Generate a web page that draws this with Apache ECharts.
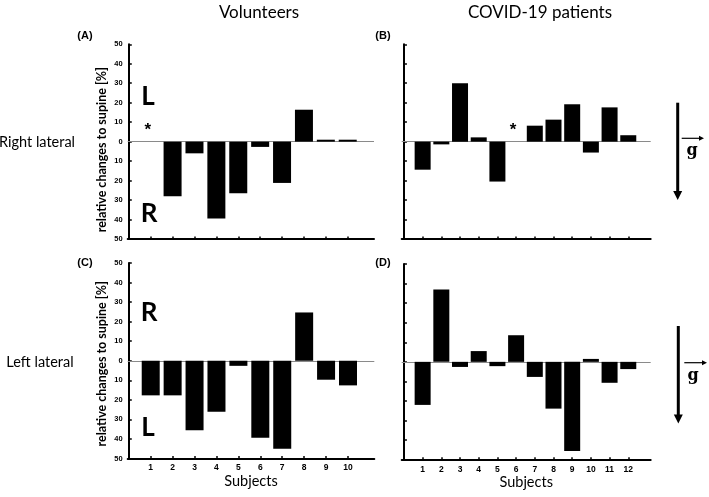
<!DOCTYPE html>
<html><head><meta charset="utf-8">
<script src="https://cdn.jsdelivr.net/npm/echarts@6/dist/echarts.min.js"></script>
<style>html,body{margin:0;padding:0;background:#fff}#c{width:709px;height:497px}</style>
</head><body><div id="c"></div>
<script>
// ---- data ----
const subjectsVol = [1, 2, 3, 4, 5, 6, 7, 8, 9, 10];
const subjectsCov = [1, 2, 3, 4, 5, 6, 7, 8, 9, 10, 11, 12];
const volRight = [null, -28, -6, -39.5, -26.5, -2.7, -21.2, 16.4, 1, 1];
const covRight = [-14.4, -1.4, 30, 2.2, -20.5, null, 8.2, 11.3, 19.2, -5.6, 17.6, 3.3];
const volLeft = [-17.7, -17.7, -35.6, -26.1, -2.6, -39.4, -45, 24.7, -9.7, -12.6];
const covLeft = [-22, 37, -2.6, 5.5, -2.2, 13.6, -7.7, -23.9, -45.6, 1.5, -10.7, -3.7];
const yTickValues = [-50, -40, -30, -20, -10, 0, 10, 20, 30, 40, 50];
const colTitles = ['Volunteers', 'COVID-19 patients'];
const rowTitles = ['Right lateral', 'Left lateral'];
const panelLabels = ['(A)', '(B)', '(C)', '(D)'];
const yName = 'relative changes to supine [%]';
const xName = 'Subjects';
const asteriskRight = [[1, 8], [6, 8]]; // [subject, value] for volunteers / patients

// ---- layout ----
const grids = [
  {left: 127.7, top: 44.3, width: 246.3, height: 194.7},
  {left: 401.7, top: 44.3, width: 249, height: 194.7},
  {left: 127.7, top: 263, width: 246.6, height: 195.5},
  {left: 401.7, top: 264, width: 249, height: 195.7}
];
const sans = 'Lato, "Open Sans", sans-serif';
const arial = '"Liberation Sans", Arial, sans-serif';

function xAxis(i, subs, showLabels, showName, minV, maxV) {
  return {
    type: 'value', gridIndex: i, min: minV, max: maxV, position: 'bottom',
    axisLine: {show: true, onZero: false, lineStyle: {color: '#000', width: 2}},
    axisTick: {show: true, inside: true, length: 2.5, customValues: subs, lineStyle: {color: '#000', width: 1.5}},
    axisLabel: {show: showLabels, customValues: subs, margin: 5, fontSize: 8.5, fontWeight: 'bold', color: '#000', fontFamily: arial},
    splitLine: {show: false},
    name: showName ? xName : '', nameLocation: 'middle', nameGap: 10,
    nameTextStyle: {fontSize: 14.5, color: '#000', fontFamily: sans, verticalAlign: 'top'}
  };
}
function yAxis(i, showLabels, shift) {
  return {
    type: 'value', gridIndex: i, min: -50, max: 50, interval: 10,
    axisLine: {show: true, lineStyle: {color: '#000', width: 2}},
    axisTick: {show: true, inside: true, length: 3, lineStyle: {color: '#000', width: 1.5}},
    axisLabel: {show: showLabels, margin: 5, fontSize: 7.5, fontWeight: 'bold', color: '#000', fontFamily: arial,
      formatter: v => String(Math.abs(v))},
    splitLine: {show: false},
    name: showLabels ? yName : '', nameLocation: 'middle', nameGap: 19, nameRotate: 90,
    nameTextStyle: {fontSize: 12.5, fontWeight: 'bold', color: '#000', fontFamily: sans, padding: [0, shift, 0, 0]}
  };
}
function barSeries(i, subs, vals, bw, star) {
  const s = {
    type: 'bar', xAxisIndex: i, yAxisIndex: i, barWidth: bw, z: 3,
    itemStyle: {color: '#000'},
    data: subs.map((s, k) => [s, vals[k]]),
    markLine: {silent: true, symbol: 'none', z: 1, animation: false,
      lineStyle: {color: '#8a8a8a', width: 1, type: 'solid'}, label: {show: false},
      data: [{yAxis: 0}]}
  };
  if (star) {
    s.markPoint = {symbol: 'circle', symbolSize: 0, animation: false,
      label: {show: true, formatter: '*', fontSize: 17, fontWeight: 'bold', color: '#000', fontFamily: arial, offset: [-3, 4]},
      data: [{coord: star}]};
  }
  return s;
}

const chart = echarts.init(document.getElementById('c'), null, {renderer: 'canvas'});

function arrow(x, y1, y2) {
  return [
    {type: 'line', shape: {x1: x, y1: y1, x2: x, y2: y2 - 7}, style: {stroke: '#000', lineWidth: 3}},
    {type: 'polygon', shape: {points: [[x - 4.5, y2 - 9], [x + 4.5, y2 - 9], [x, y2]]}, style: {fill: '#000'}}
  ];
}
function gArrow(x1, x2, y, gx, gy) {
  return [
    {type: 'line', shape: {x1: x1, y1: y, x2: x2 - 4, y2: y}, style: {stroke: '#000', lineWidth: 1.2}},
    {type: 'polygon', shape: {points: [[x2 - 5, y - 2.5], [x2 - 5, y + 2.5], [x2, y]]}, style: {fill: '#000'}},
    {type: 'text', x: gx, y: gy, style: {text: 'g', font: 'bold 16px "DejaVu Serif", serif', fill: '#000', align: 'center', verticalAlign: 'middle'}}
  ];
}
function txt(t, x, y, font, extra) {
  return Object.assign({type: 'text', x: x, y: y, style: {text: t, font: font, fill: '#000', align: 'center', verticalAlign: 'middle'}}, extra || {});
}

const graphics = [
  txt(colTitles[0], 259, 13, '17px ' + sans),
  txt(colTitles[1], 540, 13, '17px ' + sans),
  txt(rowTitles[0], 37, 142, '14.5px ' + sans),
  txt(rowTitles[1], 40, 362, '14.5px ' + sans),
  txt(panelLabels[0], 85, 36, 'bold 11px ' + arial),
  txt(panelLabels[1], 383, 36, 'bold 11px ' + arial),
  txt(panelLabels[2], 85, 263, 'bold 11px ' + arial),
  txt(panelLabels[3], 383, 263, 'bold 11px ' + arial),
  txt('L', 148, 97, 'bold 26px ' + sans),
  txt('R', 149, 214, 'bold 26px ' + sans),
  txt('R', 149, 313, 'bold 26px ' + sans),
  txt('L', 148, 428, 'bold 26px ' + sans)
].concat(arrow(677.7, 102.7, 200), gArrow(681.7, 704, 138.3, 692, 151),
         arrow(678.3, 326, 423.5), gArrow(684.3, 707, 362.7, 693, 376));

chart.setOption({
  animation: false,
  backgroundColor: '#fff',
  grid: grids.map(g => Object.assign({containLabel: false}, g)),
  xAxis: [
    xAxis(0, subjectsVol, false, false, -0.05, 11.2),
    xAxis(1, subjectsCov, false, false, -0.12, 13.2),
    xAxis(2, subjectsVol, true, true, -0.05, 11.2),
    xAxis(3, subjectsCov, true, true, -0.12, 13.2)
  ],
  yAxis: [yAxis(0, true, 16), yAxis(1, false, 0), yAxis(2, true, 6), yAxis(3, false, 0)],
  series: [
    barSeries(0, subjectsVol, volRight, 18, asteriskRight[0]),
    barSeries(1, subjectsCov, covRight, 16, asteriskRight[1]),
    barSeries(2, subjectsVol, volLeft, 18, null),
    barSeries(3, subjectsCov, covLeft, 16, null)
  ],
  graphic: graphics
});
</script></body></html>
